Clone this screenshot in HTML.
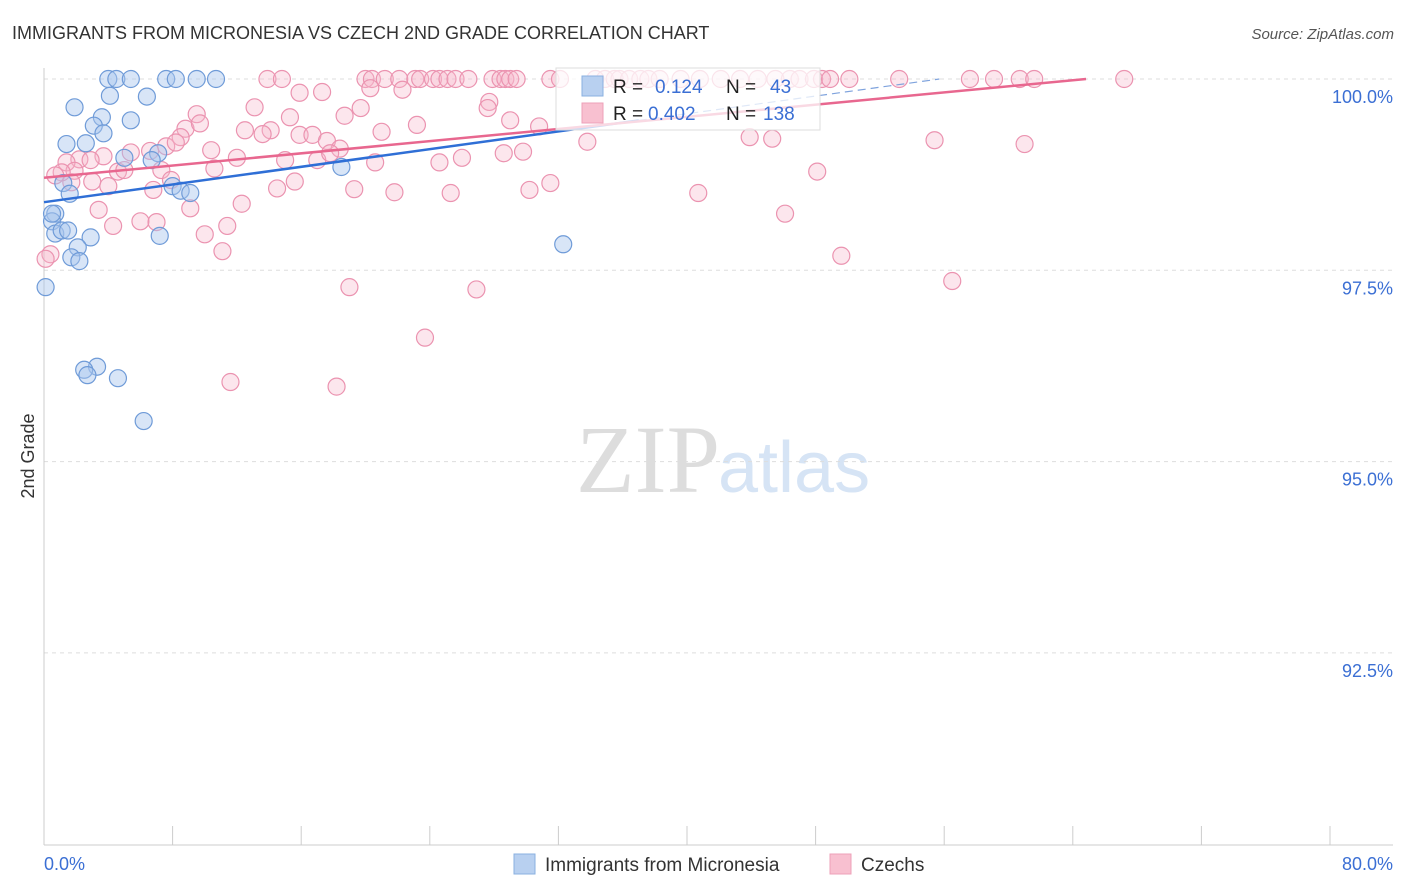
<!DOCTYPE html>
<html><head><meta charset="utf-8"><style>
body{margin:0;background:#fff;font-family:"Liberation Sans",sans-serif}
svg{display:block}
</style></head><body>
<svg id="chart" width="1406" height="892">
<text x="12" y="39" font-size="18" fill="#333">IMMIGRANTS FROM MICRONESIA VS CZECH 2ND GRADE CORRELATION CHART</text>
<text x="1394" y="39" font-size="15" fill="#555" font-style="italic" text-anchor="end">Source: ZipAtlas.com</text>
<text x="720" y="492" font-size="96" fill="#ddd" text-anchor="end" font-family="Liberation Serif">ZIP</text>
<text x="718" y="492" font-size="72" fill="#d6e4f5">atlas</text>
<text transform="translate(34,456) rotate(-90)" font-size="18" fill="#333" text-anchor="middle">2nd Grade</text>
<g id="grid"></g><g id="marks"></g><g id="lines"></g>
<g>
<rect x="556" y="68" width="264" height="62" fill="#fff" fill-opacity="0.75" stroke="#ddd"/>
<rect x="582" y="76" width="21" height="20" fill="#b8d0f0" stroke="#8ab0e0"/>
<rect x="582" y="103" width="21" height="20" fill="#f8c0d0" stroke="#eea0b8"/>
<text x="613" y="93" font-size="19" fill="#222">R = </text><text x="655" y="93" font-size="19" fill="#3b6fd4">0.124</text>
<text x="726" y="93" font-size="19" fill="#222">N = </text><text x="770" y="93" font-size="19" fill="#3b6fd4">43</text>
<text x="613" y="120" font-size="19" fill="#222">R = </text><text x="648" y="120" font-size="19" fill="#3b6fd4">0.402</text>
<text x="726" y="120" font-size="19" fill="#222">N = </text><text x="763" y="120" font-size="19" fill="#3b6fd4">138</text>
</g>
<g>
<rect x="514" y="854" width="21" height="20" fill="#b8d0f0" stroke="#8ab0e0"/>
<text x="545" y="871" font-size="19" fill="#333">Immigrants from Micronesia</text>
<rect x="830" y="854" width="21" height="20" fill="#f8c0d0" stroke="#eea0b8"/>
<text x="861" y="871" font-size="19" fill="#333">Czechs</text>
</g>
</svg>
<script>
const yTicks=[100,97.5,95,92.5];
const yTickLabels=["100.0%","97.5%","95.0%","92.5%"];
const xEndLabels=["0.0%","80.0%"];
const blueX=[4.0,4.5,5.4,7.6,8.2,9.5,10.7,1.9,4.1,6.4,3.6,3.1,5.4,3.7,1.4,2.6,7.1,5.0,6.7,1.2,1.6,8.0,8.5,9.1,0.7,0.5,0.7,1.1,1.5,2.9,7.2,2.1,1.7,2.2,0.1,18.5,32.3,3.3,2.5,2.7,4.6,6.2,0.5];
const blueY=[100,100,100,100,100,100,100,99.63,99.78,99.77,99.5,99.39,99.46,99.29,99.15,99.16,99.03,98.97,98.94,98.64,98.5,98.6,98.54,98.51,98.24,98.14,97.98,98.02,98.02,97.93,97.95,97.8,97.67,97.62,97.28,98.85,97.84,96.24,96.2,96.13,96.09,95.53,98.24];
const pinkX=[13.9,14.8,20.0,20.4,21.2,22.1,23.1,23.4,24.2,24.6,25.1,25.6,26.4,27.9,28.4,28.7,29.0,29.4,31.5,32.1,34.3,34.9,35.5,35.8,36.4,37.1,37.6,38.3,39.6,40.8,42.1,43.3,44.4,45.5,46.4,47.0,47.9,48.4,48.9,50.1,53.2,57.6,59.1,60.7,61.6,67.2,
15.9,17.3,20.3,22.3,27.7,27.6,13.1,9.5,18.7,19.7,15.3,8.8,9.7,12.5,14.1,13.6,21.0,23.2,15.9,16.7,17.6,8.5,7.6,8.2,10.4,18.4,5.4,6.6,3.7,2.2,2.9,1.4,1.9,1.7,1.1,0.7,4.6,5.0,7.3,7.9,12.0,15.0,20.6,17.0,17.8,24.6,26.0,28.6,29.8,29.0,30.8,33.8,43.9,45.3,55.4,61.0,48.1,3.0,4.0,6.8,10.6,15.6,14.5,19.3,21.8,25.3,30.2,31.5,40.7,46.1,3.4,9.1,12.3,6.0,7.0,4.3,11.4,10.0,11.1,0.4,0.1,19.0,26.9,23.7,11.6,18.2,49.6,56.5];
const pinkY=[100,100,100,100,100,100,100,100,100,100,100,100,100,100,100,100,100,100,100,100,100,100,100,100,100,100,100,100,100,100,100,100,100,100,100,100,100,100,100,100,100,100,100,100,100,100,
99.82,99.83,99.88,99.86,99.7,99.62,99.63,99.54,99.52,99.62,99.5,99.35,99.42,99.33,99.33,99.28,99.31,99.4,99.27,99.27,99.19,99.24,99.12,99.17,99.07,99.09,99.04,99.06,98.99,98.95,98.94,98.91,98.8,98.65,98.78,98.74,98.79,98.81,98.81,98.68,98.97,98.94,98.91,98.94,99.03,98.91,98.97,99.03,99.05,99.46,99.38,99.18,99.24,99.22,99.2,99.15,98.79,98.66,98.6,98.55,98.83,98.66,98.57,98.56,98.52,98.51,98.55,98.64,98.51,98.24,98.29,98.31,98.37,98.14,98.13,98.08,98.08,97.97,97.75,97.71,97.65,97.28,97.25,96.62,96.04,95.98,97.69,97.36];
const blueLine=[98.39,0.0289];const pinkLine=[98.71,0.0199];
const X0=44,X1=1330,YT=79,PPU=76.52;
const sx=v=>X0+(X1-X0)*v/80, sy=v=>YT+(100-v)*PPU;
const NS="http://www.w3.org/2000/svg";
function mk(p,t,a){const e=document.createElementNS(NS,t);for(const k in a)e.setAttribute(k,a[k]);p.appendChild(e);return e;}
const grid=document.getElementById('grid');
yTicks.forEach((v,i)=>{
 const l=mk(grid,'line',{x1:44,x2:1393,y1:sy(v),y2:sy(v),stroke:'#ddd','stroke-dasharray':'4,4'});
 
 
 const t=mk(grid,'text',{x:1393,y:sy(v)+24,'font-size':18,fill:'#3b6fd4','text-anchor':'end'});t.textContent=yTickLabels[i];
 
 
});
mk(grid,'line',{x1:44,x2:44,y1:68,y2:845,stroke:'#ccc'});
mk(grid,'line',{x1:44,x2:1393,y1:845,y2:845,stroke:'#ccc'});
for(let i=0;i<=10;i++){const x=sx(i*8);const tk=mk(grid,'line',{x1:x,x2:x,y1:826,y2:845,stroke:'#ccc'});
 
 }
[[44,'start'],[1393,'end']].forEach((p,i)=>{const t=mk(grid,'text',{x:p[0],y:870,'font-size':18,fill:'#3b6fd4','text-anchor':p[1]});t.textContent=xEndLabels[i];
 
 });
const marks=document.getElementById('marks');
pinkX.forEach((x,i)=>{const c=mk(marks,'circle',{cx:sx(x),cy:sy(pinkY[i]),r:8.5,fill:'#f7b6ca','fill-opacity':0.35,stroke:'#eb93b0','stroke-width':1.2});
 
 });
blueX.forEach((x,i)=>{const c=mk(marks,'circle',{cx:sx(x),cy:sy(blueY[i]),r:8.5,fill:'#a8c6ee','fill-opacity':0.45,stroke:'#6f9bd8','stroke-width':1.2});
 
 });
const lines=document.getElementById('lines');
const bl=mk(lines,'line',{x1:sx(0),y1:sy(blueLine[0]),x2:sx(37),y2:sy(blueLine[0]+blueLine[1]*37),stroke:'#2f6fd6','stroke-width':2.5});


const bd=mk(lines,'line',{x1:sx(37),y1:sy(blueLine[0]+blueLine[1]*37),x2:sx(55.7),y2:sy(blueLine[0]+blueLine[1]*55.7),stroke:'#7fa3dd','stroke-width':1.2,'stroke-dasharray':'8,5'});


const pxEnd=(100-pinkLine[0])/pinkLine[1];
const pl=mk(lines,'line',{x1:sx(0),y1:sy(pinkLine[0]),x2:sx(pxEnd),y2:sy(100),stroke:'#e8678f','stroke-width':2.5});


</script>
</body></html>
